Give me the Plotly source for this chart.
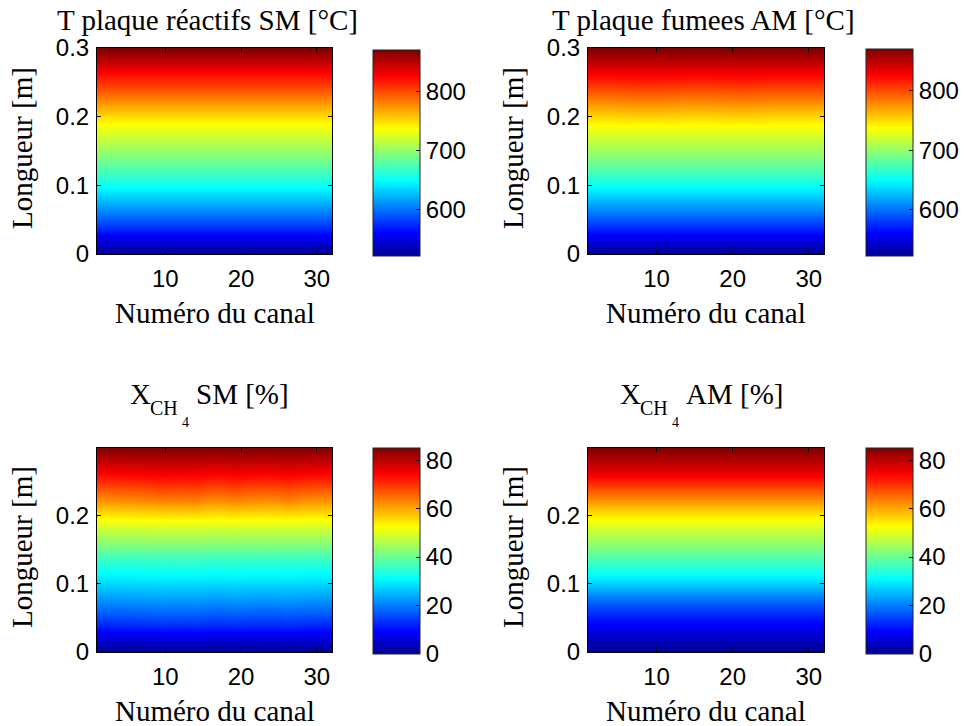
import plotly.graph_objects as go

# ---------------- data ----------------
channels = list(range(1, 33))

pos_top = [0.0, 0.02, 0.04, 0.06, 0.08, 0.10, 0.12, 0.14, 0.16, 0.18,
           0.20, 0.22, 0.24, 0.26, 0.28, 0.298]
pos_bot = [0.0, 0.02, 0.04, 0.06, 0.08, 0.10, 0.12, 0.14, 0.16, 0.18,
           0.20, 0.22, 0.24, 0.26, 0.28, 0.299]

T_sm_profile = [522, 550, 578, 604, 629, 653, 673, 692, 711, 729,
                749, 774, 799, 822, 847, 871]
T_am_profile = [523, 550, 577, 603, 628, 652, 674, 694, 712, 730,
                750, 775, 800, 824, 847, 869]
X_sm_profile = [0.0, 6.5, 12.5, 18.0, 23.0, 27.5, 32.0, 37.0, 42.5, 48.0,
                54.0, 61.0, 67.5, 73.5, 79.5, 84.7]
X_am_profile = [0.0, 4.5, 9.0, 14.0, 20.0, 27.0, 33.0, 38.5, 43.5, 48.5,
                54.0, 61.0, 68.0, 75.0, 80.5, 84.7]

# small channel-to-channel deviations
T_sm_dev = [0] * 32
T_am_dev = [0, 0, 0, 0, 1, 1, 2, 2, 2, 2, 2, 1, 1, 0, 0, 0,
            0, 1, 1, 2, 2, 2, 1, 1, 0, 0, 0, 0, 0, 0, 0, 0]
X_sm_dev = [0.0, 0.0, 0.2, 0.4, 0.5, 0.6, 0.8, 1.0, 1.4, 1.6, 1.2, 1.5, 1.3, 1.6, 1.0, 0.6,
            0.4, 0.6, 1.2, 1.0, 0.6, 0.5, 0.4, 0.4, 0.6, 1.2, 0.8, 0.4, 0.2, 0.0, 0.0, 0.0]
X_am_dev = [0.0] * 32
# how strongly each row shows the channel deviation
T_sm_wt = [0] * 16
T_am_wt = [0, 0, 0, 0, 0, 0, 0, 0, 0, 0.3, 0.8, 1, 0.8, 0.4, 0, 0]
X_sm_wt = [0, 0.3, 0.5, 0.5, 0.4, 0.3, 0.2, 0.2, 0.2, 0.3, 0.5, 1, 1, 0.6, 0.3, 0]
X_am_wt = [0] * 16

T_range = [522, 871]
T2_range = [523, 869]
X_range = [0, 85]

titles_top = ["T plaque réactifs SM [°C]", "T plaque fumees AM [°C]"]
titles_bot = ["SM [%]", "AM [%]"]
xlabel = "Numéro du canal"
ylabel = "Longueur [m]"

# ---------------- style ----------------
W, H = 964, 726
jet = [[0.0, "rgb(0,0,143)"], [0.111, "rgb(0,0,255)"], [0.365, "rgb(0,255,255)"],
       [0.619, "rgb(255,255,0)"], [0.873, "rgb(255,0,0)"], [1.0, "rgb(128,0,0)"]]
SERIF = "Liberation Serif, Times New Roman, serif"
SANS = "Liberation Sans, Arial, sans-serif"
TICK = 24


def grid(profile, dev, wt):
    return [[p + d * w for d in dev] for p, w in zip(profile, wt)]


def px(x):
    return x / W


def py(y):
    return 1 - y / H


panels = [
    dict(z=grid(T_sm_profile, T_sm_dev, T_sm_wt), y=pos_top, rng=T_range, dt=100,
         ax=(97, 332, 48, 254), cb=(373, 50, 256), yr=[0, 0.3]),
    dict(z=grid(T_am_profile, T_am_dev, T_am_wt), y=pos_top, rng=T2_range, dt=100,
         ax=(588, 824, 48, 254), cb=(866, 49, 256), yr=[0, 0.3]),
    dict(z=grid(X_sm_profile, X_sm_dev, X_sm_wt), y=pos_bot, rng=X_range, dt=20,
         ax=(97, 332, 448, 652), cb=(373, 448, 654), yr=[0, 0.299]),
    dict(z=grid(X_am_profile, X_am_dev, X_am_wt), y=pos_bot, rng=X_range, dt=20,
         ax=(588, 824, 448, 652), cb=(866, 448, 654), yr=[0, 0.299]),
]

fig = go.Figure()
layout = dict(width=W, height=H,
              margin=dict(l=0, r=0, t=0, b=0, autoexpand=False),
              paper_bgcolor="white", plot_bgcolor="white", showlegend=False)
annotations = []


def ann(text, x, y, size, xanchor="center", angle=0):
    annotations.append(dict(text=text, x=px(x), y=py(y), xref="paper", yref="paper",
                            showarrow=False, xanchor=xanchor, yanchor="middle",
                            textangle=angle,
                            font=dict(family=SERIF, size=size, color="black")))


for i, p in enumerate(panels):
    k = "" if i == 0 else str(i + 1)
    x0, x1, y0, y1 = p["ax"]
    cbx, cby0, cby1 = p["cb"]
    fig.add_trace(go.Heatmap(
        x=channels, y=p["y"], z=p["z"], xaxis="x" + k, yaxis="y" + k,
        colorscale=jet, zmin=p["rng"][0], zmax=p["rng"][1], zsmooth="best",
        hoverinfo="skip",
        colorbar=dict(x=px(cbx), xanchor="left", y=py(cby1), yanchor="bottom",
                      len=cby1 - cby0, lenmode="pixels", thickness=47,
                      thicknessmode="pixels", xpad=0, ypad=0,
                      outlinewidth=1, outlinecolor="#222",
                      tickmode="linear", tick0=0, dtick=p["dt"],
                      ticks="inside", ticklen=4, tickcolor="black",
                      tickfont=dict(family=SANS, size=TICK, color="black")),
    ))
    layout["xaxis" + k] = dict(
        domain=[px(x0), px(x1)], anchor="y" + k, range=[1, 32],
        tickmode="array", tickvals=[10, 20, 30], ticks="inside", ticklen=4,
        tickcolor="black", showline=True, linecolor="black", linewidth=1,
        mirror="ticks", showgrid=False, zeroline=False, ticklabelstandoff=3,
        tickfont=dict(family=SANS, size=TICK, color="black"))
    layout["yaxis" + k] = dict(
        domain=[py(y1), py(y0)], anchor="x" + k, range=p["yr"],
        tickmode="linear", tick0=0, dtick=0.1, ticks="inside", ticklen=4,
        tickcolor="black", showline=True, linecolor="black", linewidth=1,
        mirror="ticks", showgrid=False, zeroline=False, ticklabelstandoff=2,
        tickfont=dict(family=SANS, size=TICK, color="black"))
    cx = (x0 + x1) / 2
    ann(xlabel, cx, y1 + 59, 29)
    ann(ylabel, x0 - 75, (y0 + y1) / 2 - 3, 29, angle=-90)

# titles
ann(titles_top[0], 207, 20, 29)
ann(titles_top[1], 703, 20, 29)
for xs, txt in zip([(130, 150, 181, 196), (620, 640, 671, 686)], titles_bot):
    ann("X", xs[0] - 2, 394, 29, xanchor="left")
    ann("CH", xs[1] - 2, 408, 20, xanchor="left")
    ann("4", xs[2] - 1, 423, 14, xanchor="left")
    ann(txt, xs[3] - 2, 394, 29, xanchor="left")

layout["annotations"] = annotations
fig.update_layout(**layout)
fig.write_html("out.html", config={"displayModeBar": False},
               post_script="document.body.style.margin='0';")
